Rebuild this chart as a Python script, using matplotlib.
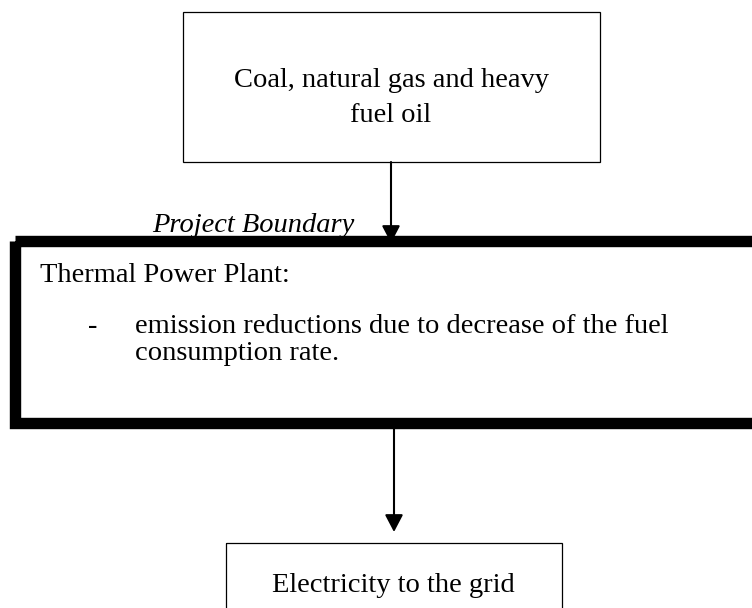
import matplotlib
matplotlib.use("Agg")
import matplotlib.pyplot as plt
from matplotlib.patches import Rectangle

# text content of the flow diagram
source_lines = ["Coal, natural gas and heavy", "fuel oil"]
boundary_label = "Project Boundary"
plant_title = "Thermal Power Plant:"
plant_bullet = ["emission reductions due to decrease of the fuel", "consumption rate."]
output_label = "Electricity to the grid"

plt.rcParams['font.family'] = ['Liberation Serif', 'DejaVu Serif']

fig = plt.figure(figsize=(7.52, 6.08), dpi=100)
ax = fig.add_axes([0, 0, 1, 1])
ax.set_xlim(0, 752)
ax.set_ylim(608, 0)
ax.axis('off')

fs = 20.5

# top box
ax.add_patch(Rectangle((183, 12), 417, 150, fill=False, ec='black', lw=0.9, zorder=2))
for y, line in zip([87, 122], source_lines):
    ax.text(391, y, line, ha='center', va='baseline', fontsize=fs)

# arrow into the project boundary
ax.annotate('', xy=(391, 243), xytext=(391, 162),
            arrowprops=dict(arrowstyle='-|>,head_length=1.05,head_width=0.55',
                            color='black', lw=1.5, shrinkA=0, shrinkB=0,
                            mutation_scale=10), zorder=1)

ax.text(152, 232, boundary_label, ha='left', va='baseline', fontsize=fs,
        style='italic')

# thick project boundary box (right side runs off the page)
ax.add_patch(Rectangle((15, 240.5), 800, 182, fill=False, ec='black', lw=8.2,
                       zorder=3))
ax.text(40, 282, plant_title, ha='left', va='baseline', fontsize=fs)
ax.text(88, 333, "-", ha='left', va='baseline', fontsize=fs)
ax.text(135, 333, plant_bullet[0], ha='left', va='baseline', fontsize=fs)
ax.text(135, 360, plant_bullet[1], ha='left', va='baseline', fontsize=fs)

# arrow to the grid
ax.annotate('', xy=(394, 532), xytext=(394, 428),
            arrowprops=dict(arrowstyle='-|>,head_length=1.05,head_width=0.55',
                            color='black', lw=1.5, shrinkA=0, shrinkB=0,
                            mutation_scale=10), zorder=1)

# bottom box (cut by the page edge)
ax.add_patch(Rectangle((226, 543), 336, 100, fill=False, ec='black', lw=0.9,
                       zorder=2))
ax.text(393, 592, output_label, ha='center', va='baseline', fontsize=fs)

fig.savefig("out.png", dpi=100)
